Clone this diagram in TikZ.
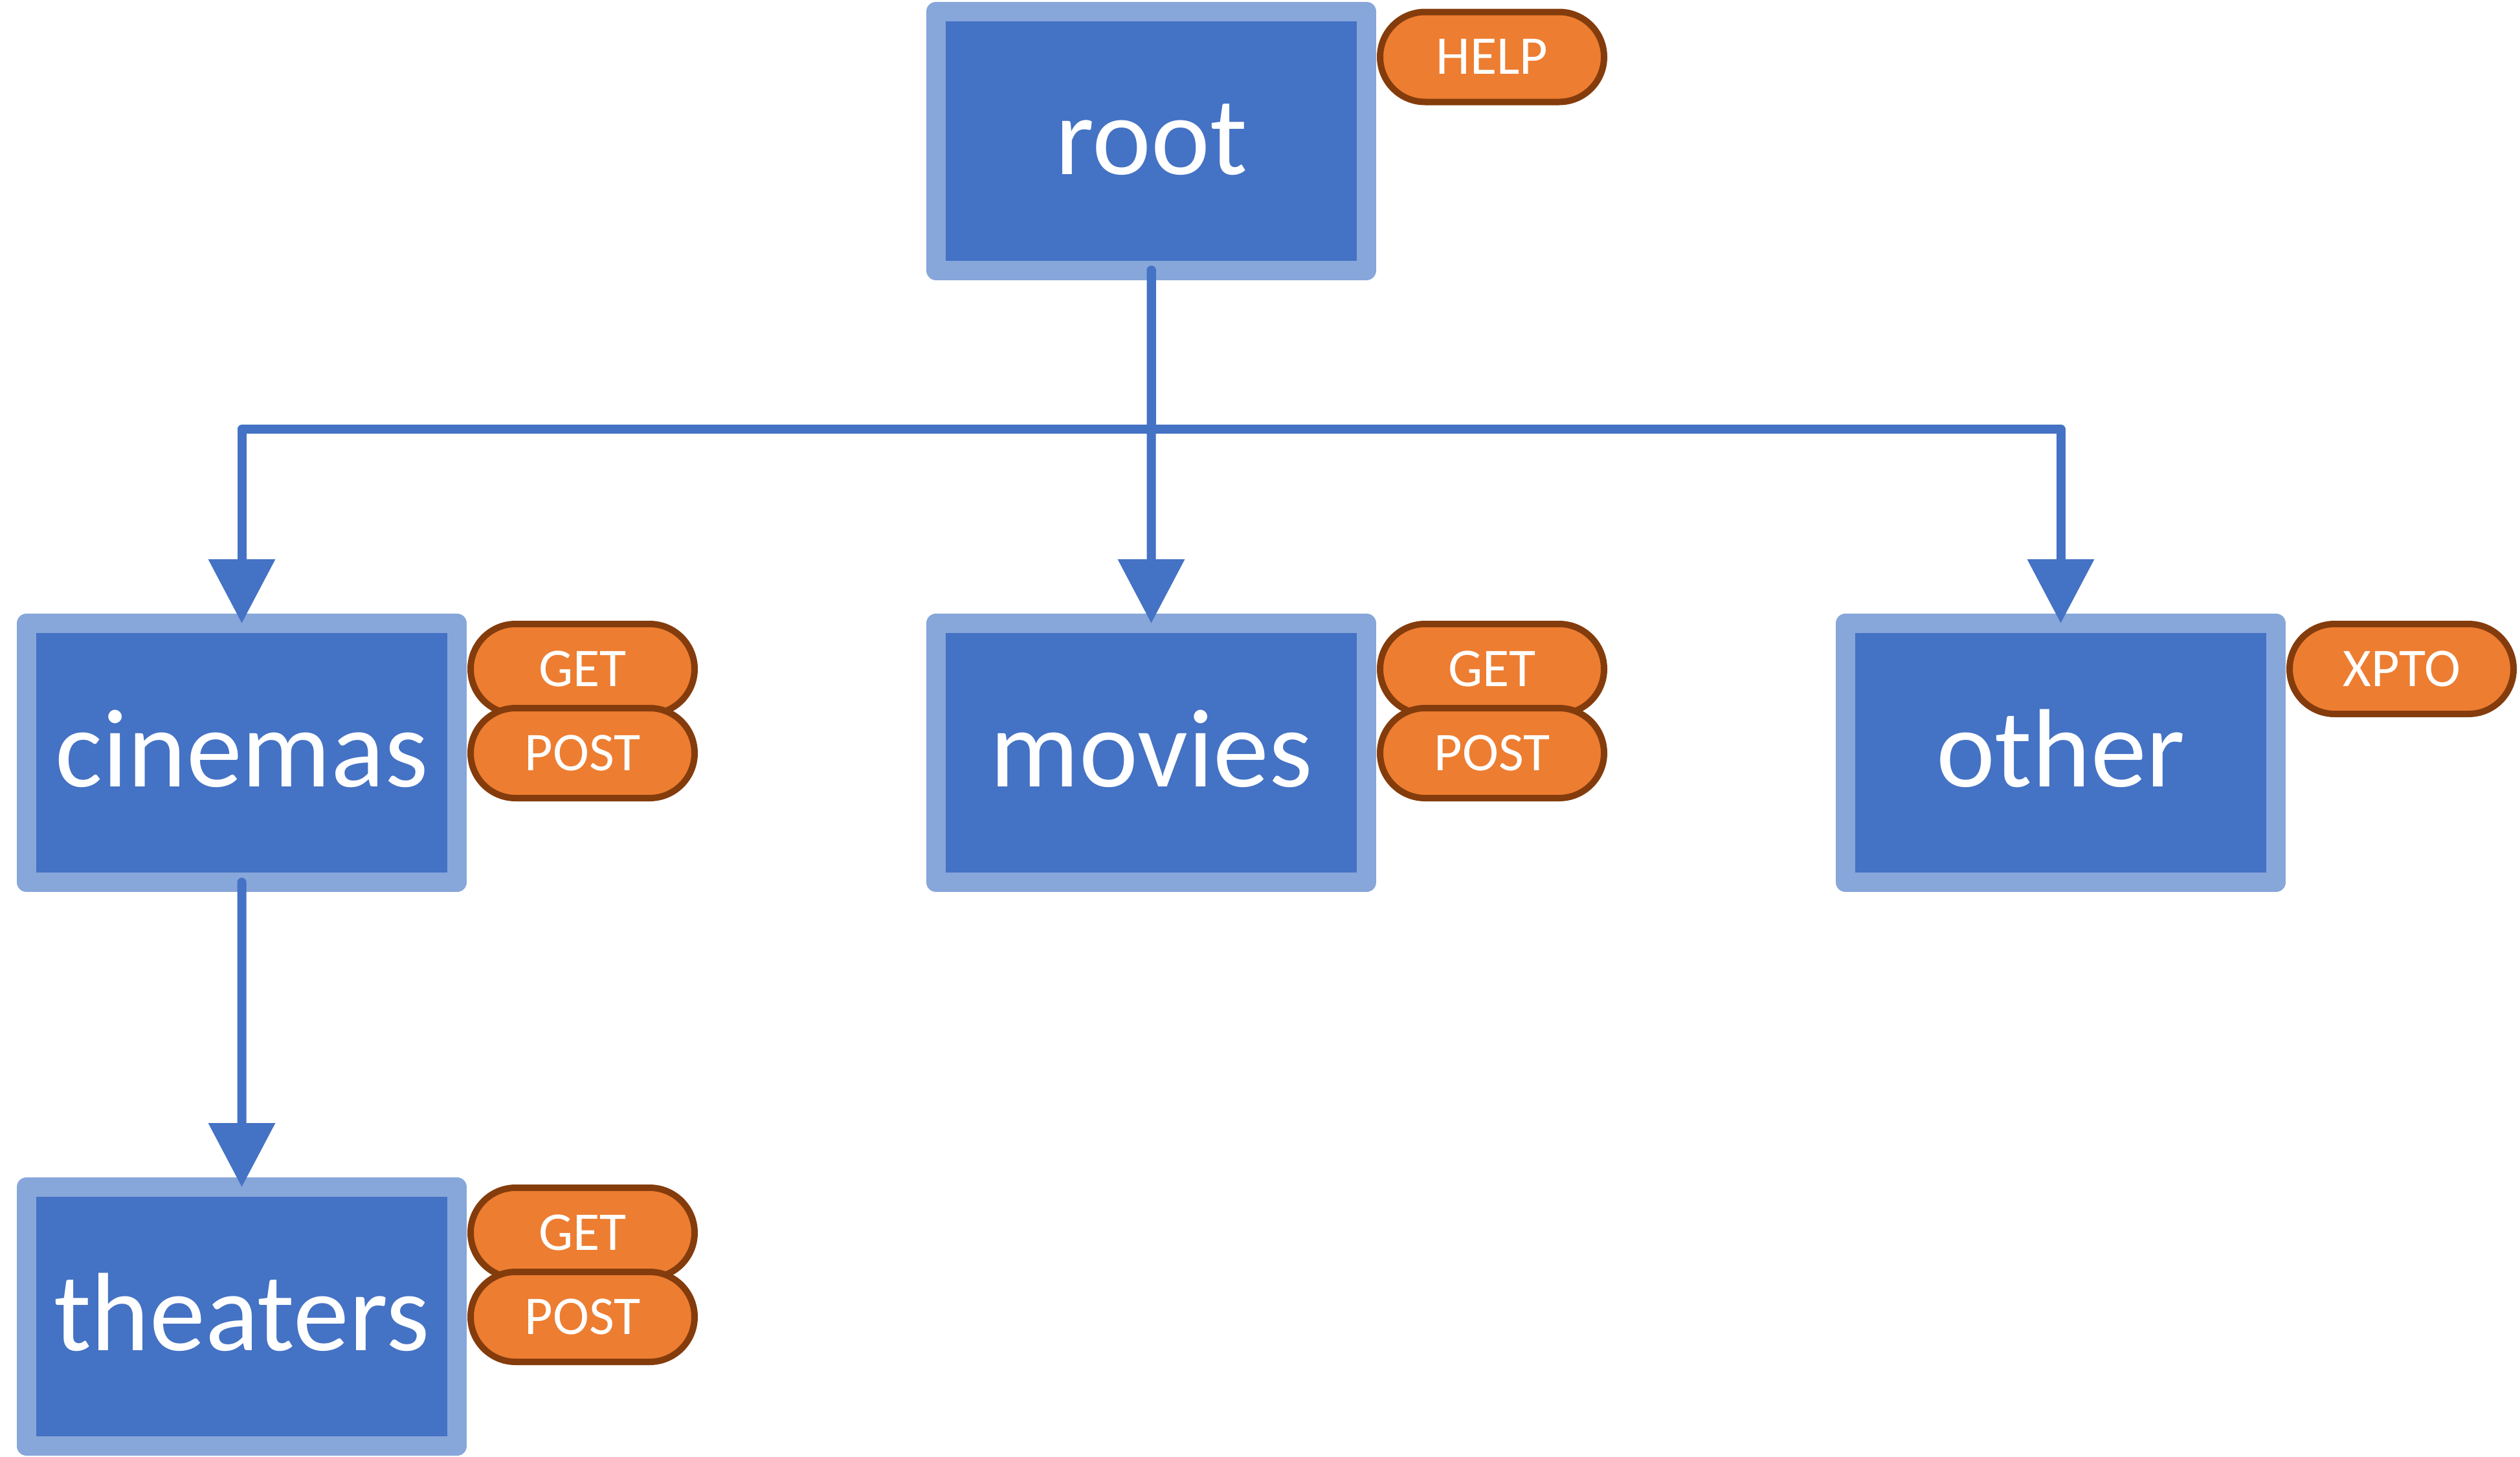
\documentclass[tikz,border=0pt]{standalone}
\usepackage{fontspec}
\setmainfont{Carlito}
\usetikzlibrary{positioning,arrows.meta}
\definecolor{boxfill}{HTML}{4472C4}
\definecolor{boxedge}{HTML}{87A6DA}
\definecolor{pillfill}{HTML}{ED7D31}
\definecolor{pilledge}{HTML}{843C0C}
\begin{document}
\begin{tikzpicture}[level 1/.style={sibling distance=14.05cm, level distance=9.455cm},
  level 2/.style={level distance=8.71cm},
  edge from parent/.style={draw=none},
  box/.style = {shape=rectangle, draw=boxedge, fill=boxfill, line width=0.3cm,
    line join=round, minimum width=6.65cm, minimum height=4cm, inner sep=0pt,
    outer sep=0pt, text=white, text height=1.04cm, text depth=0pt,
    font=\fontsize{49}{58}\selectfont},
  pill/.style = {shape=rectangle, rounded corners=0.695cm, draw=pilledge,
    fill=pillfill, line width=0.1cm, minimum width=3.46cm, minimum height=1.39cm,
    inner sep=0pt, outer sep=0pt, text=white, text height=0.53cm, text depth=0pt,
    font=\fontsize{24}{29}\selectfont},
  arr/.style = {draw=boxfill, line width=0.14cm, line cap=round, line join=round,
    -{Triangle[width=1cm,length=0.99cm]}}]
\useasboundingbox (0,0) rectangle (38.93,-22.51);
\node[box] (root) at (17.785,-2.175) {root}
  child { node[box] (cinemas) {cinemas}
    child { node[box] (theaters) {theaters}}}
  child { node[box] (movies) {movies}}
  child { node[box] (other) {other}};
\coordinate (fork) at ([yshift=-2.455cm]root.south);
\draw [arr] (root) -- (movies);
\draw [arr] (root.south) -- (fork) -| (cinemas.north);
\draw [arr] (fork) -| (other.north);
\draw [arr] (cinemas) -- (theaters);
\node[pill, below right=0.01cm and 0.21cm of root.north east] (help) {HELP};
\node[pill, below right=0.01cm and 0.21cm of cinemas.north east] (cinemasget) {GET};
\node[pill, below=-0.09cm of cinemasget] (cinemaspost) {POST};
\node[pill, below right=0.01cm and 0.21cm of movies.north east] (moviesget) {GET};
\node[pill, below=-0.09cm of moviesget] (moviespost) {POST};
\node[pill, below right=0.01cm and 0.21cm of other.north east] (xpto) {XPTO};
\node[pill, below right=0.01cm and 0.21cm of theaters.north east] (theatersget) {GET};
\node[pill, below=-0.09cm of theatersget] (theaterspost) {POST};
\end{tikzpicture}
\end{document}
